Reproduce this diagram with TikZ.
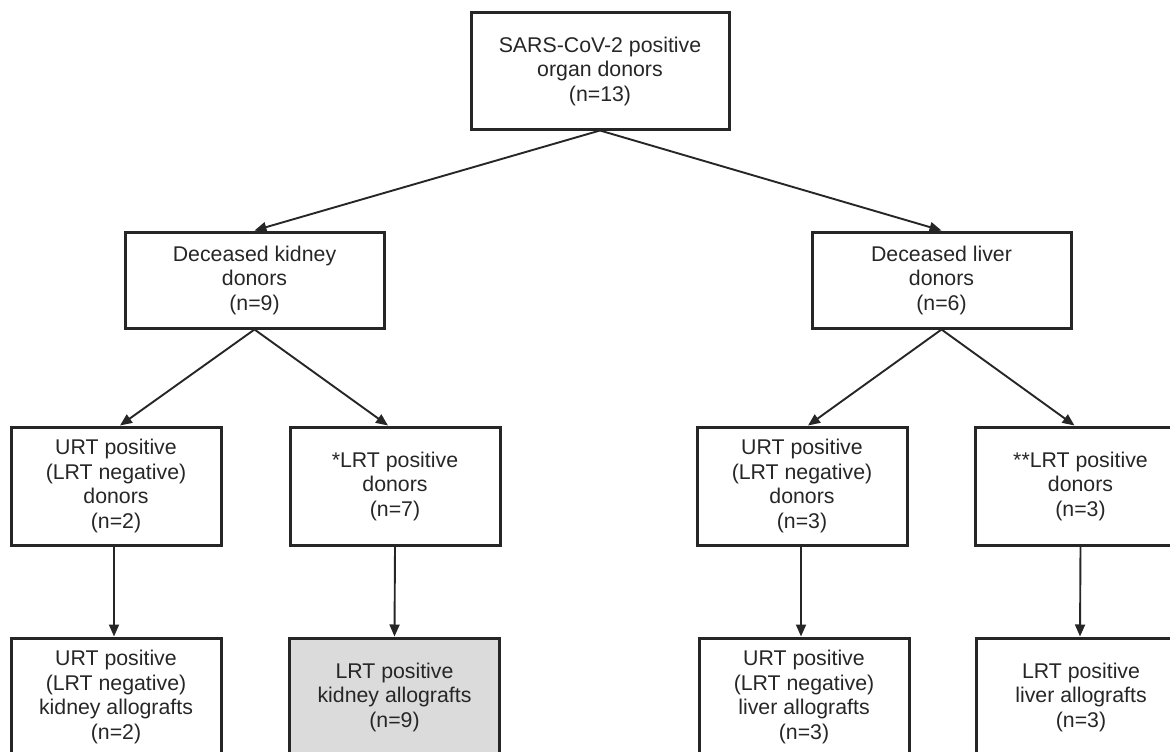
\documentclass[tikz,border=0pt]{standalone}
\usepackage{fontspec}
\setmainfont{Liberation Sans}
\usetikzlibrary{arrows.meta}
\begin{document}
\begin{tikzpicture}[x=1pt,y=-1pt,
  box/.style={draw=black!85,line width=3pt,align=center,inner sep=0pt,
    font=\fontsize{21.3}{24.5}\selectfont,text=black!85},
  smallbox/.style={box,minimum width=259pt,minimum height=96pt},
  tallbox/.style={box,minimum width=210pt,minimum height=118pt},
  arrow/.style={draw=black!85,line width=1.9pt,-{Triangle[length=12pt,width=10pt]}}]
\useasboundingbox (0,0) rectangle (1170,752);
% top
\node[box,minimum width=258pt,minimum height=116pt] (donors) at (600,71) {SARS-CoV-2 positive\\organ donors\\(n=13)};
% deceased donors
\node[smallbox] (kidney) at (254.5,280) {Deceased kidney\\donors\\(n=9)};
\node[smallbox] (liver) at (941.5,280) {Deceased liver\\donors\\(n=6)};
% donors by test
\node[tallbox] (kurt) at (116,486) {URT positive\\(LRT negative)\\donors\\(n=2)};
\node[tallbox] (klrt) at (395,486) {*LRT positive\\donors\\(n=7)};
\node[tallbox] (lurt) at (802,486) {URT positive\\(LRT negative)\\donors\\(n=3)};
\node[tallbox] (llrt) at (1080.5,486) {**LRT positive\\donors\\(n=3)};
% allografts
\node[tallbox] (kurtgraft) at (116,697) {URT positive\\(LRT negative)\\kidney allografts\\(n=2)};
\node[tallbox,fill=black!14] (klrtgraft) at (394.5,697) {LRT positive\\kidney allografts\\(n=9)};
\node[tallbox] (lurtgraft) at (804,697) {URT positive\\(LRT negative)\\liver allografts\\(n=3)};
\node[tallbox] (llrtgraft) at (1081,697) {LRT positive\\liver allografts\\(n=3)};
% connectors
\draw[arrow] (donors.south) -- (kidney.north);
\draw[arrow] (donors.south) -- (liver.north);
\draw[arrow] (kidney.south) -- ([xshift=4pt]kurt.north);
\draw[arrow] (kidney.south) -- ([xshift=-7pt]klrt.north);
\draw[arrow] (liver.south) -- ([xshift=6pt]lurt.north);
\draw[arrow] (liver.south) -- ([xshift=-6pt]llrt.north);
\draw[arrow] ([xshift=-2pt]kurt.south) -- ([xshift=-2pt]kurtgraft.north);
\draw[arrow] (klrt.south) -- (klrtgraft.north);
\draw[arrow] ([xshift=-1pt]lurt.south) -- ([xshift=-3pt]lurtgraft.north);
\draw[arrow] (llrt.south) -- ([xshift=-1pt]llrtgraft.north);
\end{tikzpicture}
\end{document}
